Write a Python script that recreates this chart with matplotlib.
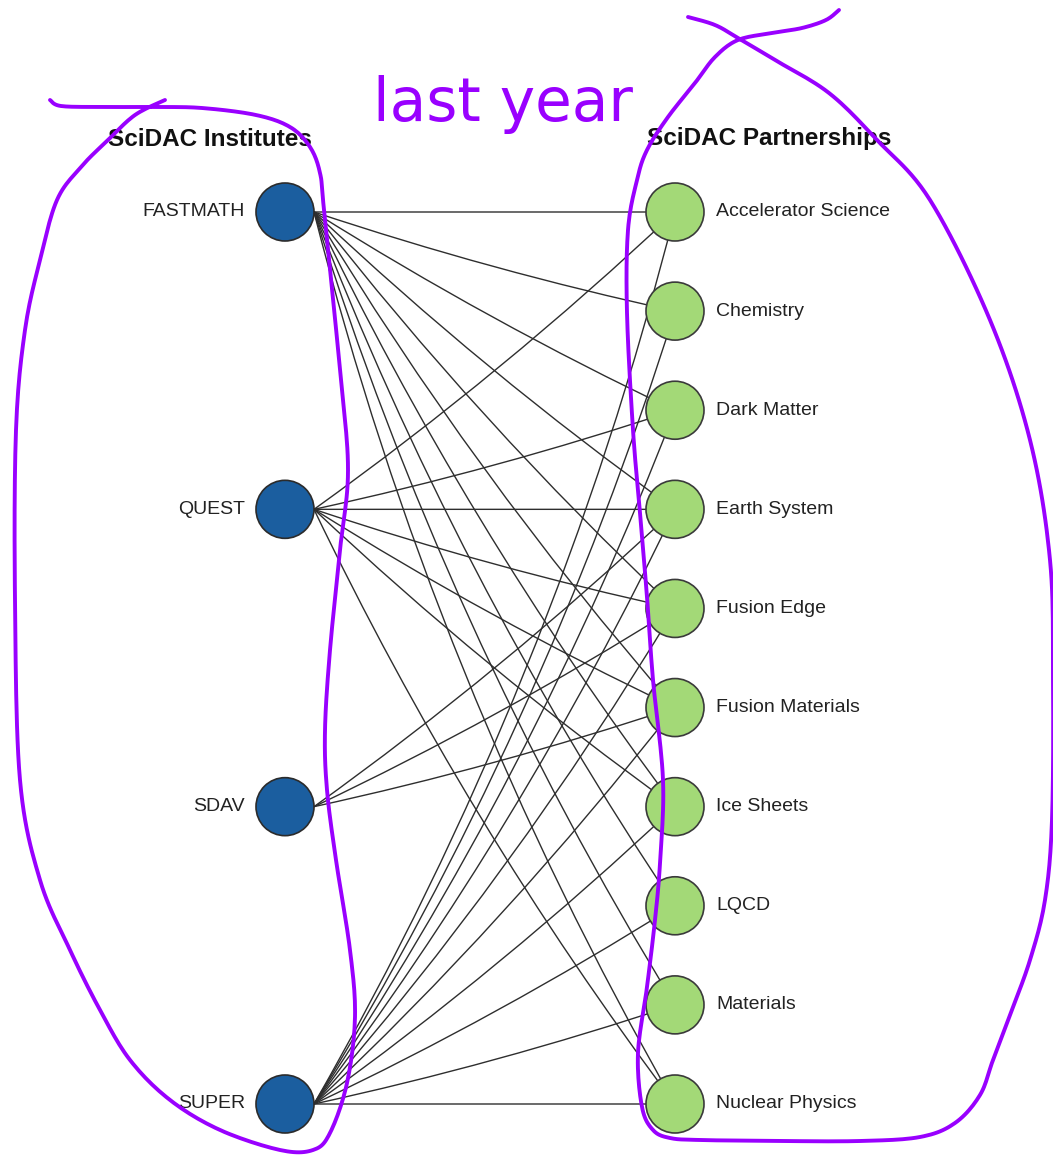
import matplotlib.pyplot as plt
import numpy as np
from matplotlib.patches import Circle, PathPatch
from matplotlib.path import Path

plt.rcParams["font.family"] = ["Liberation Sans", "DejaVu Sans"]

institutes = ["FASTMATH", "QUEST", "SDAV", "SUPER"]
partnerships = ["Accelerator Science", "Chemistry", "Dark Matter", "Earth System",
                "Fusion Edge", "Fusion Materials", "Ice Sheets", "LQCD",
                "Materials", "Nuclear Physics"]
# links institute -> partnership (by name)
links = {
    "FASTMATH": partnerships,
    "QUEST": ["Accelerator Science", "Dark Matter", "Earth System", "Fusion Edge",
              "Fusion Materials", "Ice Sheets", "Nuclear Physics"],
    "SDAV": ["Earth System", "Fusion Edge", "Fusion Materials"],
    "SUPER": partnerships,
}

# hand drawn loops (traced strokes)
left_loop_x = [50, 61, 101, 155, 202, 256, 290, 310, 320, 324, 340, 348, 340, 330,
               325, 327, 336, 350, 355, 347, 330, 313, 280, 220, 170, 130, 100, 70,
               40, 20, 15, 16, 25, 40, 57, 81, 108, 135, 165]
left_loop_y = [100, 106, 107, 107, 108, 115, 127, 147, 173, 210, 370, 470, 550, 650,
               730, 790, 860, 950, 1017, 1083, 1133, 1150, 1150, 1130, 1100, 1060,
               1010, 950, 880, 780, 600, 430, 330, 260, 200, 167, 140, 115, 100]
right_loop_x = [688, 715, 738, 775, 829, 877, 930, 990, 1030, 1050, 1053, 1052,
                1045, 1030, 1010, 993, 980, 955, 920, 860, 780, 700, 670, 653, 642,
                638, 647, 655, 660, 663, 653, 647, 640, 633, 627, 628, 637, 647, 668,
                695, 715, 738, 772, 802, 826, 839]
right_loop_y = [17, 25, 38, 60, 93, 140, 200, 320, 440, 560, 680, 820, 900, 960,
                1015, 1060, 1095, 1123, 1137, 1141, 1141, 1140, 1138, 1130, 1107,
                1053, 987, 920, 863, 780, 680, 597, 513, 430, 313, 230, 180, 150,
                117, 83, 57, 40, 33, 28, 20, 10]

W, H = 1053, 1155
fig = plt.figure(figsize=(W / 100, H / 100), dpi=100)
ax = fig.add_axes([0, 0, 1, 1])
ax.set_xlim(0, W)
ax.set_ylim(H, 0)
ax.axis("off")

# layout (pixel space)
top, bottom = 212, 1104
x_left, x_right = 285, 675
r_node = 29
y_left = dict(zip(institutes, np.linspace(top, bottom, len(institutes))))
y_right = dict(zip(partnerships, np.linspace(top, bottom, len(partnerships))))

# edges: from the institute's right edge to the partnership centre,
# arcs of constant radius bulging to the right of the travel direction
R = 3500.0
for src, targets in links.items():
    for t in targets:
        p1 = np.array([x_left + r_node, y_left[src]])
        p2 = np.array([x_right, y_right[t]])
        d = p2 - p1
        c = np.hypot(*d)
        s = 0.0 if abs(d[1]) < 1 else c ** 2 / (8 * R)
        n = np.array([-d[1], d[0]]) / c
        ctrl = (p1 + p2) / 2 + n * 2 * s
        path = Path([p1, ctrl, p2], [Path.MOVETO, Path.CURVE3, Path.CURVE3])
        ax.add_patch(PathPatch(path, facecolor="none", edgecolor="#2e2e2e",
                               lw=1.0, zorder=1))

for name in institutes:
    ax.add_patch(Circle((x_left, y_left[name]), r_node, facecolor="#1b5e9f",
                        edgecolor="#2b2b2b", lw=1.2, zorder=3))
    ax.text(x_left - 40, y_left[name], name, ha="right", va="center",
            fontsize=14, color="#222222")

for name in partnerships:
    ax.add_patch(Circle((x_right, y_right[name]), r_node, facecolor="#a3d977",
                        edgecolor="#3a3a3a", lw=1.2, zorder=3))
    ax.text(x_right + 41, y_right[name], name, ha="left", va="center",
            fontsize=14, color="#222222")

ax.text(x_left - 75, 139, "SciDAC Institutes", ha="center", va="center",
        fontsize=17.5, fontweight="bold", color="#111111")
ax.text(x_right + 94, 139, "SciDAC Partnerships", ha="center", va="center",
        fontsize=17.5, fontweight="bold", color="#111111")


def smooth(xs, ys, k=12):
    # catmull-rom through the traced points
    p = np.column_stack([xs, ys]).astype(float)
    p = np.vstack([p[0], p, p[-1]])
    out = []
    for i in range(1, len(p) - 2):
        p0, p1, p2, p3 = p[i - 1], p[i], p[i + 1], p[i + 2]
        for t in np.linspace(0, 1, k, endpoint=False):
            t2, t3 = t * t, t * t * t
            out.append(0.5 * (2 * p1 + (-p0 + p2) * t + (2 * p0 - 5 * p1 + 4 * p2 - p3) * t2
                              + (-p0 + 3 * p1 - 3 * p2 + p3) * t3))
    out.append(p[-2])
    out = np.array(out)
    return out[:, 0], out[:, 1]


purple = "#9900ff"
ax.text(373, 121, "last year", ha="left", va="baseline", fontsize=43,
        color=purple, family=["DejaVu Sans"])

for xs, ys in [(left_loop_x, left_loop_y), (right_loop_x, right_loop_y)]:
    sx, sy = smooth(xs, ys)
    ax.plot(sx, sy, color=purple, lw=2.8, solid_capstyle="round",
            solid_joinstyle="round", zorder=5)

fig.savefig("out.png", dpi=100)
